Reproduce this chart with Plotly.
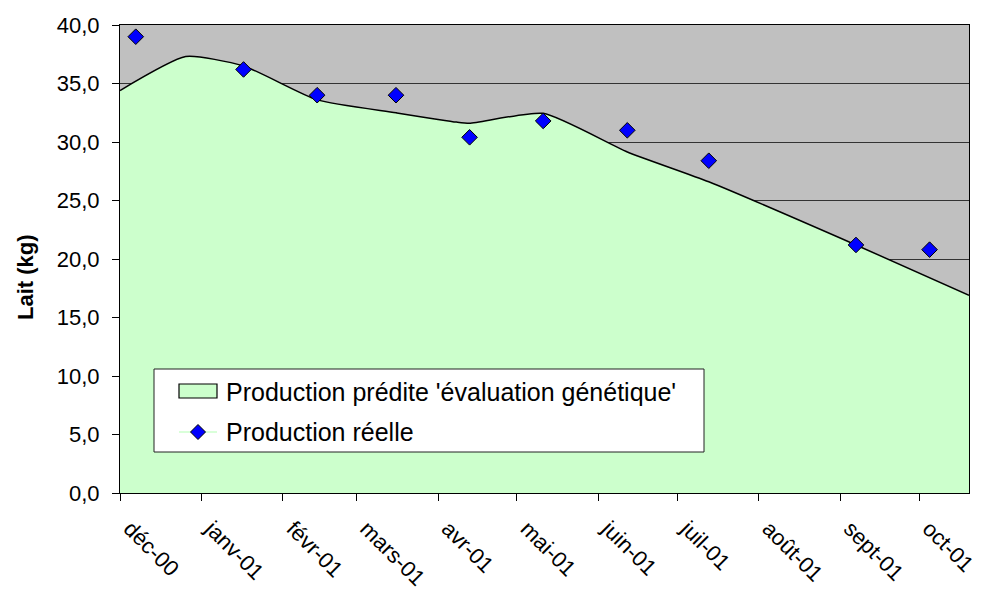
import plotly.graph_objects as go

# Predicted lactation curve (genetic evaluation), kg of milk per day
pred_dates = ["2000-12-01", "2000-12-26", "2001-01-17", "2001-02-14", "2001-03-16",
              "2001-04-08", "2001-04-13", "2001-05-11", "2001-06-12", "2001-07-13",
              "2001-09-07", "2001-10-20"]
pred_values = [34.4, 37.3, 36.5, 33.6, 32.5, 31.7, 31.6, 32.45, 29.15, 26.6, 21.2, 16.9]

# Actual test-day production
real_dates = ["2000-12-07", "2001-01-17", "2001-02-14", "2001-03-16", "2001-04-13",
              "2001-05-11", "2001-06-12", "2001-07-13", "2001-09-07", "2001-10-05"]
real_values = [39.0, 36.2, 34.0, 34.0, 30.4, 31.8, 31.0, 28.4, 21.2, 20.8]

# Month axis
month_ticks = ["2000-12-01", "2001-01-01", "2001-02-01", "2001-03-01", "2001-04-01",
               "2001-05-01", "2001-06-01", "2001-07-01", "2001-08-01", "2001-09-01",
               "2001-10-01"]
month_labels = ["déc-00", "janv-01", "févr-01", "mars-01", "avr-01", "mai-01",
                "juin-01", "juil-01", "août-01", "sept-01", "oct-01"]

PRED_NAME = "Production prédite 'évaluation génétique'"
REAL_NAME = "Production réelle"

FONT = "Liberation Sans, Arial, sans-serif"
W, H = 984, 590
ML, MR, MT, MB = 120, 15, 25, 97
PW, PH = W - ML - MR, H - MT - MB


def px(x):
    """Horizontal pixel -> paper coordinate."""
    return (x - ML) / PW


def py(y):
    """Vertical pixel (from top) -> paper coordinate."""
    return (H - MB - y) / PH


fig = go.Figure()

fig.add_trace(go.Scatter(
    x=pred_dates, y=pred_values,
    name=PRED_NAME,
    mode="lines",
    line=dict(color="black", width=1.5, shape="spline", smoothing=0.55),
    fill="tozeroy", fillcolor="#CCFFCC",
    showlegend=False,
))

fig.add_trace(go.Scatter(
    x=real_dates, y=real_values,
    name=REAL_NAME,
    mode="markers",
    marker=dict(symbol="diamond", size=12, color="#0000FF",
                line=dict(color="black", width=1)),
    showlegend=False,
))

# Legend box drawn inside the plot area
shapes = [
    dict(type="rect", xref="paper", yref="paper", layer="above",
         x0=px(154), x1=px(704), y0=py(369), y1=py(452),
         fillcolor="white", line=dict(color="#222222", width=1)),
    # area swatch
    dict(type="rect", xref="paper", yref="paper", layer="above",
         x0=px(179), x1=px(217), y0=py(384), y1=py(398),
         fillcolor="#CCFFCC", line=dict(color="black", width=1.2)),
    # marker swatch line
    dict(type="line", xref="paper", yref="paper", layer="above",
         x0=px(179), x1=px(217), y0=py(432), y1=py(432),
         line=dict(color="#CCFFCC", width=1.5)),
]
cx, cy, r = 198, 432, 7.5
diamond = (f"M {px(cx - r)},{py(cy)} L {px(cx)},{py(cy - r)} "
           f"L {px(cx + r)},{py(cy)} L {px(cx)},{py(cy + r)} Z")
shapes.append(dict(type="path", xref="paper", yref="paper", layer="above",
                   path=diamond, fillcolor="#0000FF",
                   line=dict(color="black", width=1)))

annotations = [
    dict(text=PRED_NAME, xref="paper", yref="paper", x=px(224), y=py(391.5),
         xanchor="left", yanchor="middle", showarrow=False,
         font=dict(family=FONT, size=25, color="black")),
    dict(text=REAL_NAME, xref="paper", yref="paper", x=px(224), y=py(432),
         xanchor="left", yanchor="middle", showarrow=False,
         font=dict(family=FONT, size=25, color="black")),
    # y-axis title
    dict(text="<b>Lait (kg)</b>", xref="paper", yref="paper", x=px(25), y=py(277),
         xanchor="center", yanchor="middle", textangle=-90, showarrow=False,
         font=dict(family=FONT, size=22, color="black")),
]

fig.update_layout(
    width=W, height=H,
    margin=dict(l=ML, r=MR, t=MT, b=MB, autoexpand=False),
    paper_bgcolor="white",
    plot_bgcolor="#C0C0C0",
    separators=", ",
    font=dict(family=FONT, size=22, color="black"),
    showlegend=False,
    shapes=shapes,
    annotations=annotations,
)

fig.update_xaxes(
    type="date",
    range=["2000-12-01", "2001-10-20"],
    tickmode="array", tickvals=month_ticks, ticktext=month_labels,
    tickangle=45,
    ticks="outside", ticklen=7, tickcolor="black",
    ticklabelstandoff=6, ticklabelshift=10,
    showline=True, linecolor="black", linewidth=1, mirror=True,
    showgrid=False, zeroline=False, automargin=False,
    tickfont=dict(family=FONT, size=22, color="black"),
)

fig.update_yaxes(
    range=[0, 40], dtick=5, tick0=0, tickformat=".1f",
    ticks="outside", ticklen=7, tickcolor="black",
    ticklabelstandoff=8,
    showline=True, linecolor="black", linewidth=1, mirror=True,
    showgrid=True, gridcolor="#333333", gridwidth=1,
    zeroline=False, automargin=False,
    tickfont=dict(family=FONT, size=22, color="black"),
)

fig.write_html("out.html")
